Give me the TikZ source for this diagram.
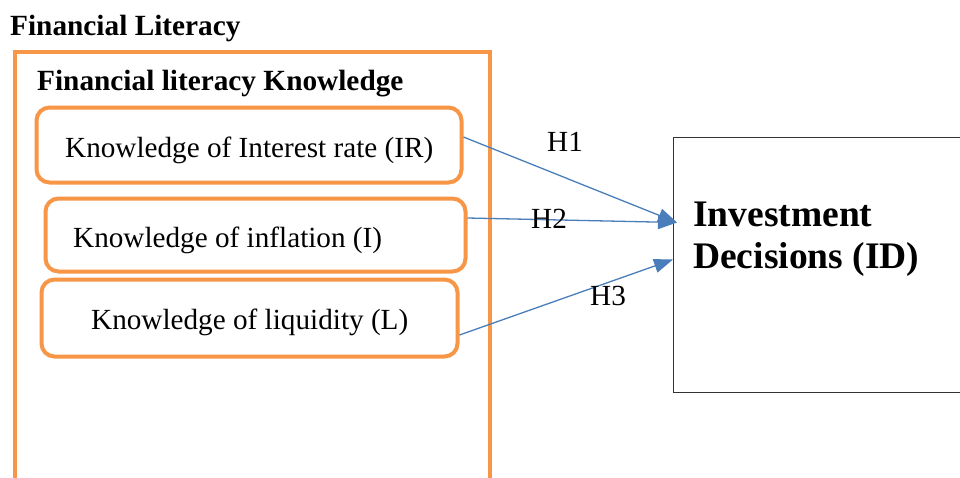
\documentclass[tikz,border=0pt]{standalone}
\usepackage{fontspec}
\setmainfont{Liberation Serif}
\usetikzlibrary{arrows.meta}
\definecolor{orng}{HTML}{F79646}
\definecolor{blu}{HTML}{4A7EBB}
\tikzset{
  kbox/.style={draw=orng,line width=4pt,rounded corners=13pt,inner sep=0pt},
  txt/.style={anchor=base west,inner sep=0pt,font=\fontsize{29.2}{34}\selectfont},
  btxt/.style={anchor=base west,inner sep=0pt,font=\fontsize{29.3}{34}\selectfont\bfseries},
  hyp/.style={draw=blu,line width=1.3pt,-{Triangle[length=19pt,width=14pt]}},
}
\begin{document}
\begin{tikzpicture}[x=1pt,y=-1pt]
\useasboundingbox (0,0) rectangle (960,477);
\fill[white] (0,0) rectangle (960,477);
% outer frame
\node[draw=orng,line width=4pt,inner sep=0pt,minimum width=475pt,minimum height=460pt,anchor=north west] (outer) at (13,50) {};
\node[btxt] (fl) at (10,35) {Financial Literacy};
\node[btxt] (flk) at (37,90) {Financial literacy Knowledge};
% boxes
\node[kbox,minimum width=425pt,minimum height=75pt] (b1) at (249,145) {};
\node[kbox,minimum width=420pt,minimum height=73pt] (b2) at (255.5,235) {};
\node[kbox,minimum width=416pt,minimum height=77pt] (b3) at (249.5,318) {};
\node[txt] (t1) at (65,157) {Knowledge of Interest rate (IR)};
\node[txt] (t2) at (73,247) {Knowledge of inflation (I)};
\node[txt] (t3) at (91,329) {Knowledge of liquidity (L)};
% target box
\node[draw=black!80,line width=1pt,inner sep=0pt,minimum width=300pt,minimum height=255pt,anchor=north west] (id) at (673,137) {};
\node[anchor=base west,inner sep=0pt,align=left,font=\fontsize{37.5}{42}\selectfont\bfseries] (idt) at (693,268) {Investment\\Decisions (ID)};
% connectors
\draw[hyp] ([yshift=8pt]b1.east) -- ([xshift=4pt,yshift=42.5pt]id.west);
\draw[hyp] ([yshift=17pt]b2.east) -- ([xshift=4pt,yshift=42.5pt]id.west);
\draw[hyp] ([yshift=-17pt]b3.east) -- ([yshift=5.5pt]id.west);
% labels
\node[txt] (h1) at (547,151) {H1};
\node[txt] (h2) at (531,228) {H2};
\node[txt] (h3) at (590,305) {H3};
\end{tikzpicture}
\end{document}
